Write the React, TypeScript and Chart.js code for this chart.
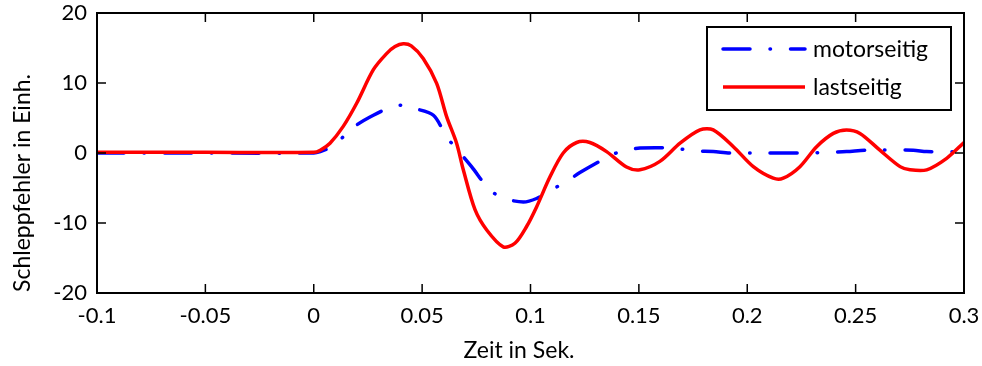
import React, { useEffect, useRef } from "react";
import { Chart, registerables } from "chart.js";

Chart.register(...registerables);

// ---- data ----
const seriesNames = ["motorseitig", "lastseitig"];
const xTitle = "Zeit in Sek.";
const yTitle = "Schleppfehler in Einh.";

const xTicks = [-0.1, -0.05, 0, 0.05, 0.1, 0.15, 0.2, 0.25, 0.3];
const xTickLabels = ["-0.1", "-0.05", "0", "0.05", "0.1", "0.15", "0.2", "0.25", "0.3"];
const yTicks = [-20, -10, 0, 10, 20];

const lastT = [
  -0.1, -0.05, 0.0, 0.003, 0.0075, 0.0136, 0.0198, 0.0275, 0.0336, 0.0375, 0.0413, 0.045,
  0.0505, 0.0567, 0.0613, 0.0659, 0.069, 0.0744, 0.0798, 0.0874, 0.0928, 0.0982, 0.1028,
  0.109, 0.1151, 0.1213, 0.1274, 0.1351, 0.1443, 0.1505, 0.1597, 0.169, 0.1782, 0.1843,
  0.1936, 0.2028, 0.212, 0.2166, 0.2243, 0.232, 0.2397, 0.2458, 0.252, 0.2612, 0.2705,
  0.2751, 0.2828, 0.292, 0.3,
];
const lastV = [
  0.1, 0.1, 0.1, 0.4, 1.4, 3.8, 7.1, 11.9, 14.2, 15.2, 15.6, 15.3,
  13.5, 9.95, 5.2, 1.4, -2.4, -8.1, -11.0, -13.4, -12.9, -10.5, -7.7,
  -3.4, 0.0, 1.5, 1.5, 0.2, -2.0, -2.4, -1.2, 1.4, 3.3, 3.3,
  0.9, -1.95, -3.6, -3.6, -1.95, 0.9, 2.8, 3.3, 2.8, 0.4, -1.95,
  -2.4, -2.4, -0.76, 1.5,
];

const motorT = [
  -0.1, -0.05, 0.0, 0.003, 0.0075, 0.0136, 0.0198, 0.0275, 0.0367, 0.041, 0.046, 0.0552,
  0.0613, 0.067, 0.0728, 0.0813, 0.0882, 0.0967, 0.1028, 0.1082, 0.1159, 0.1228, 0.1336,
  0.1413, 0.1505, 0.1659, 0.1751, 0.1843, 0.192, 0.2059, 0.2274, 0.2366, 0.2458, 0.2551,
  0.2766, 0.2828, 0.3,
];
const motorV = [
  0.0, 0.0, 0.0, 0.2, 0.8, 2.3, 4.0, 5.4, 6.7, 6.8, 6.4, 5.4,
  2.3, 0.2, -1.95, -5.3, -6.5, -7.0, -6.5, -5.5, -4.2, -2.8, -0.9,
  0.2, 0.7, 0.7, 0.3, 0.2, 0.0, 0.0, 0.0, 0.1, 0.2, 0.4,
  0.4, 0.2, 0.2,
];

const FONT = "Lato";
const BLUE = "#0000ff";
const RED = "#ff0000";
const DASHDOT = [27, 20, 0.5, 20];

const zeroPad = (axis: any) => {
  axis.paddingTop = 0;
  axis.paddingBottom = 0;
  axis.paddingLeft = 0;
  axis.paddingRight = 0;
};

const framePlugin = {
  id: "frameAndLegend",
  afterDraw(chart: any) {
    const { ctx, chartArea: a, scales } = chart;
    ctx.save();
    // frame
    ctx.strokeStyle = "#000";
    ctx.lineWidth = 2;
    ctx.strokeRect(a.left, a.top, a.right - a.left, a.bottom - a.top);
    // inward ticks (all four sides)
    ctx.lineWidth = 1.5;
    ctx.beginPath();
    xTicks.forEach((v) => {
      const px = scales.x.getPixelForValue(v);
      ctx.moveTo(px, a.bottom);
      ctx.lineTo(px, a.bottom - 9);
      ctx.moveTo(px, a.top);
      ctx.lineTo(px, a.top + 9);
    });
    yTicks.forEach((v) => {
      const py = scales.y.getPixelForValue(v);
      ctx.moveTo(a.left, py);
      ctx.lineTo(a.left + 9, py);
      ctx.moveTo(a.right, py);
      ctx.lineTo(a.right - 9, py);
    });
    ctx.stroke();

    // axis titles
    ctx.fillStyle = "#000";
    ctx.font = `23px ${FONT}`;
    ctx.textAlign = "center";
    ctx.textBaseline = "middle";
    ctx.fillText(xTitle, 519, 351);
    ctx.save();
    ctx.translate(23, 183);
    ctx.rotate(-Math.PI / 2);
    ctx.fillText(yTitle, 0, 0);
    ctx.restore();

    // legend
    const lx = 707, ly = 27, lw = 244, lh = 83;
    ctx.fillStyle = "#fff";
    ctx.fillRect(lx, ly, lw, lh);
    ctx.strokeStyle = "#000";
    ctx.lineWidth = 2;
    ctx.strokeRect(lx, ly, lw, lh);
    const rows = [
      { y: 49, color: BLUE, dash: DASHDOT, label: seriesNames[0] },
      { y: 87, color: RED, dash: [], label: seriesNames[1] },
    ];
    rows.forEach((r) => {
      ctx.save();
      ctx.strokeStyle = r.color;
      ctx.lineWidth = 3.5;
      ctx.lineCap = r.dash.length ? "round" : "butt";
      ctx.setLineDash(r.dash);
      ctx.beginPath();
      ctx.moveTo(723, r.y);
      ctx.lineTo(805, r.y);
      ctx.stroke();
      ctx.restore();
      ctx.fillStyle = "#000";
      ctx.font = `23px ${FONT}`;
      ctx.textAlign = "left";
      ctx.textBaseline = "middle";
      ctx.fillText(r.label, 813, r.y + 1);
    });
    ctx.restore();
  },
};

export default function App() {
  const ref = useRef<HTMLCanvasElement | null>(null);

  useEffect(() => {
    if (!ref.current) return;
    const chart = new Chart(ref.current, {
      type: "line",
      data: {
        datasets: [
          {
            label: seriesNames[0],
            data: motorT.map((t, i) => ({ x: t, y: motorV[i] })),
            borderColor: BLUE,
            backgroundColor: BLUE,
            borderWidth: 3.5,
            borderDash: DASHDOT,
            borderCapStyle: "round",
            pointRadius: 0,
            tension: 0.3,
            order: 1,
          },
          {
            label: seriesNames[1],
            data: lastT.map((t, i) => ({ x: t, y: lastV[i] })),
            borderColor: RED,
            backgroundColor: RED,
            borderWidth: 3.5,
            pointRadius: 0,
            tension: 0.3,
            order: 0,
          },
        ],
      },
      options: {
        animation: false,
        responsive: false,
        maintainAspectRatio: false,
        layout: { padding: { top: 13, right: 18, left: 0, bottom: 0 } },
        plugins: { legend: { display: false }, tooltip: { enabled: false } },
        scales: {
          x: {
            type: "linear",
            min: -0.1,
            max: 0.3,
            grid: { display: false, drawTicks: false },
            border: { display: false },
            afterBuildTicks: (axis: any) => {
              axis.ticks = xTicks.map((v) => ({ value: v }));
            },
            afterFit: (axis: any) => {
              axis.height = 73;
              zeroPad(axis);
            },
            ticks: {
              autoSkip: false,
              maxRotation: 0,
              padding: 10,
              color: "#000",
              font: { family: FONT, size: 22 },
              callback: (v: any, i: number) => xTickLabels[i],
            },
          },
          y: {
            type: "linear",
            min: -20,
            max: 20,
            grid: { display: false, drawTicks: false },
            border: { display: false },
            afterBuildTicks: (axis: any) => {
              axis.ticks = yTicks.map((v) => ({ value: v }));
            },
            afterFit: (axis: any) => {
              axis.width = 97;
              zeroPad(axis);
            },
            ticks: {
              padding: 10,
              color: "#000",
              font: { family: FONT, size: 22 },
              callback: (v: any) => String(v),
            },
          },
        },
      },
      plugins: [framePlugin],
    });
    return () => chart.destroy();
  }, []);

  return (
    <div style={{ position: "fixed", left: 0, top: 0, width: 982, height: 366, background: "#fff" }}>
      <canvas ref={ref} width={982} height={366} style={{ display: "block" }} />
    </div>
  );
}
